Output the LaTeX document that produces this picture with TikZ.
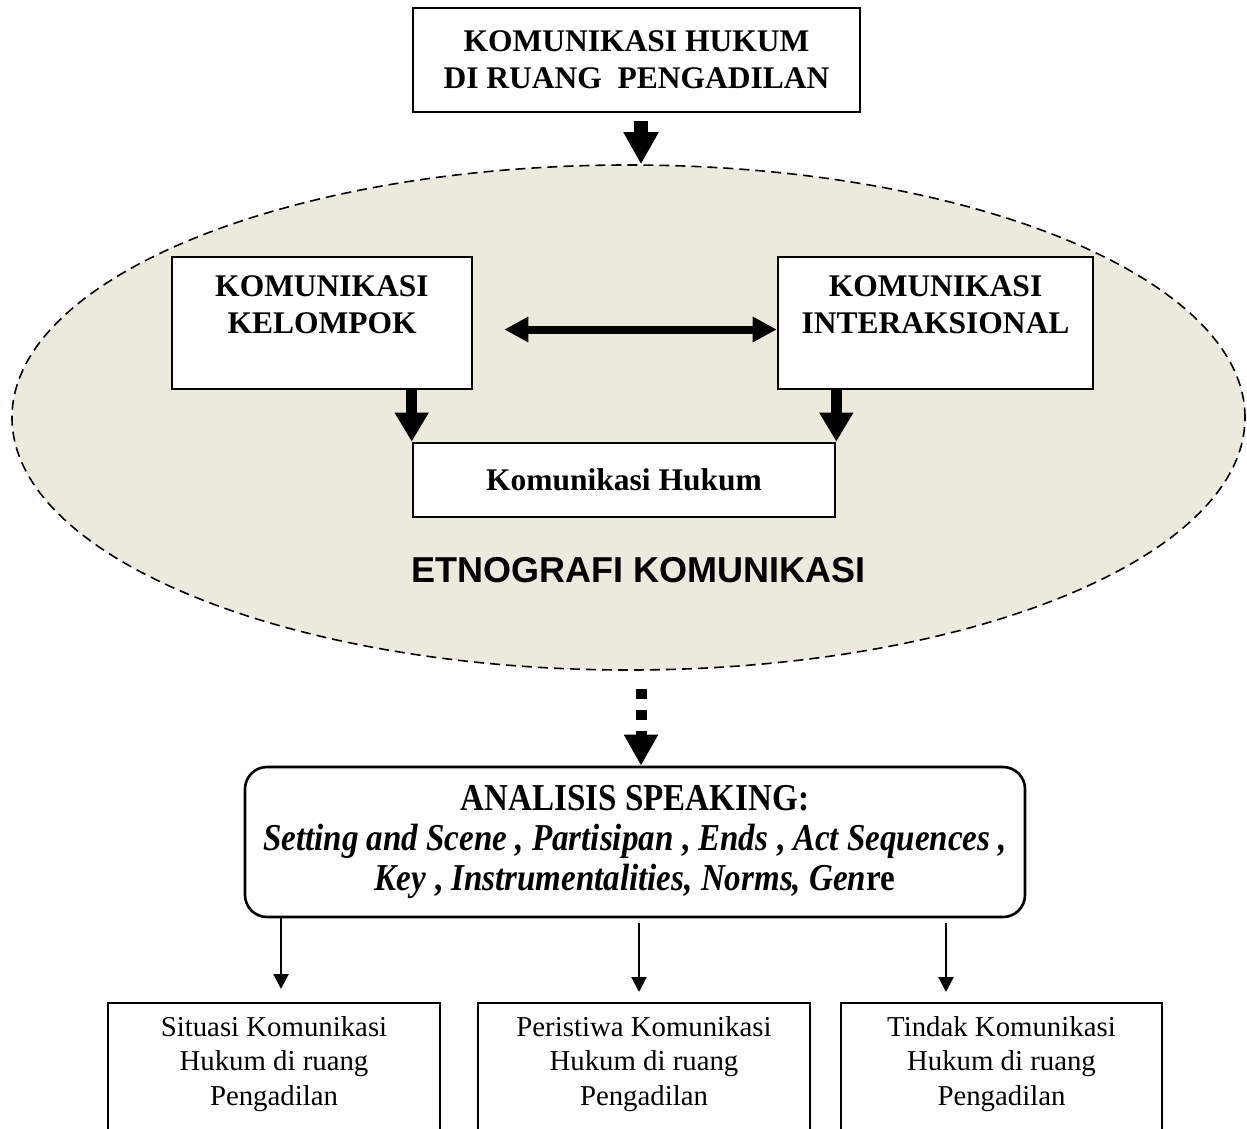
\documentclass[tikz,border=0pt]{standalone}
\usepackage{fontspec}
\setmainfont{Liberation Serif}
\newfontfamily\headsans{Liberation Sans}
\newfontfamily\narrowserif[FakeStretch=0.87]{Liberation Serif}
\usetikzlibrary{arrows.meta,shapes.geometric}
\definecolor{ovalfill}{RGB}{236,233,223}

\tikzset{
  box/.style={draw, line width=1.3pt, fill=white, rectangle, inner sep=0pt},
  lowbox/.style={draw, line width=1pt, fill=white, rectangle, inner sep=0pt,
    minimum height=73.5pt},
  boldtxt/.style={font=\fontsize{15.75}{18.5}\selectfont\bfseries, align=center, inner sep=0pt},
  plaintxt/.style={font=\fontsize{14.4}{17.4}\selectfont, align=center, inner sep=0pt},
  bigarrow/.style={line width=7pt, -{Triangle[width=16.5pt,length=16pt]}},
  sidearrow/.style={line width=5.5pt, -{Triangle[width=16pt,length=14.5pt]}},
  linkarrow/.style={line width=4pt,
    {Triangle[width=12pt,length=12pt]}-{Triangle[width=12pt,length=12pt]}},
  dotarrow/.style={line width=5.5pt, dash pattern=on 5pt off 5.5pt,
    -{Triangle[width=16pt,length=15.5pt]}},
  thinarrow/.style={line width=1.1pt, -{Triangle[width=7.5pt,length=7.5pt]}},
}

\begin{document}
\begin{tikzpicture}[x=0.5pt, y=-0.5pt]
  \useasboundingbox (0,0) rectangle (1247,1129);
  \clip (0,0) rectangle (1247,1129);

  % vertical axes of the arrows
  \coordinate (axis) at (641,0);
  \coordinate (c1) at (281,0);
  \coordinate (c2) at (639,0);
  \coordinate (c3) at (946,0);

  % shaded oval
  \node[ellipse, draw, dash pattern=on 5pt off 3pt, line width=0.8pt, fill=ovalfill,
    minimum width=616.5pt, minimum height=252.5pt, inner sep=0pt] (oval) at (628.5,417.5) {};

  % top box
  \node[box, boldtxt, draw, line width=1.3pt, fill=white,
    minimum width=223.5pt, minimum height=52pt] (top) at (636.5,60)
    {KOMUNIKASI HUKUM\\DI RUANG\ \ PENGADILAN};

  % boxes inside the oval
  \node[box, minimum width=150pt, minimum height=66pt] (kel) at (322,323) {};
  \node[boldtxt] (keltxt) at (322,305) {KOMUNIKASI\\KELOMPOK};
  \node[box, minimum width=157.5pt, minimum height=66pt] (inter) at (935.5,323) {};
  \node[boldtxt] (intertxt) at (935.5,305) {KOMUNIKASI\\INTERAKSIONAL};
  \node[box, boldtxt, draw, line width=1.3pt, fill=white,
    minimum width=211pt, minimum height=37pt] (hukum) at (624,480) {Komunikasi Hukum};

  \node[font=\headsans\bfseries\fontsize{18}{20}\selectfont, inner sep=0pt] (etno)
    at (638.5,570.5) {ETNOGRAFI KOMUNIKASI};

  % speaking analysis box
  \node[draw, line width=1.3pt, fill=white, rounded corners=11pt, inner sep=0pt,
    minimum width=390pt, minimum height=75pt, align=center,
    font=\fontsize{19}{20}\narrowserif\bfseries] (speak) at (635,842)
    {ANALISIS SPEAKING:\\
     \textit{Setting and Scene ,} \textit{Partisipan} , \textit{Ends} , \textit{Act Sequences ,}\\
     \textit{Key} , \textit{Instrumentalities, Norms, Gen}re};

  % result boxes
  \node[lowbox, minimum width=166pt] (b1) at (274,1076.5) {};
  \node[lowbox, minimum width=166pt] (b2) at (644,1076.5) {};
  \node[lowbox, minimum width=160.5pt] (b3) at (1001.5,1076.5) {};
  \node[plaintxt] (t1) at (274,1064) {Situasi Komunikasi\\Hukum di ruang\\Pengadilan};
  \node[plaintxt] (t2) at (644,1064) {Peristiwa Komunikasi\\Hukum di ruang\\Pengadilan};
  \node[plaintxt] (t3) at (1001.5,1064) {Tindak Komunikasi\\Hukum di ruang\\Pengadilan};

  % connectors
  \draw[bigarrow, shorten <=4pt] (top.south -| axis) -- (oval.north -| axis);
  \draw[linkarrow, shorten <=15.5pt] ([yshift=-3.25pt]kel.east) -- ([yshift=-3.25pt]inter.west);
  \draw[sidearrow] (kel.south -| hukum.north west) -- (hukum.north west);
  \draw[sidearrow] (inter.south -| hukum.north east) -- (hukum.north east);
  \draw[dotarrow, shorten <=9pt] (oval.south -| axis) -- (speak.north -| axis);
  \draw[thinarrow, shorten >=6.5pt] (speak.south -| c1) -- (b1.north -| c1);
  \draw[thinarrow, shorten <=2.5pt, shorten >=5pt] (speak.south -| c2) -- (b2.north -| c2);
  \draw[thinarrow, shorten <=2.5pt, shorten >=5pt] (speak.south -| c3) -- (b3.north -| c3);
\end{tikzpicture}
\end{document}
